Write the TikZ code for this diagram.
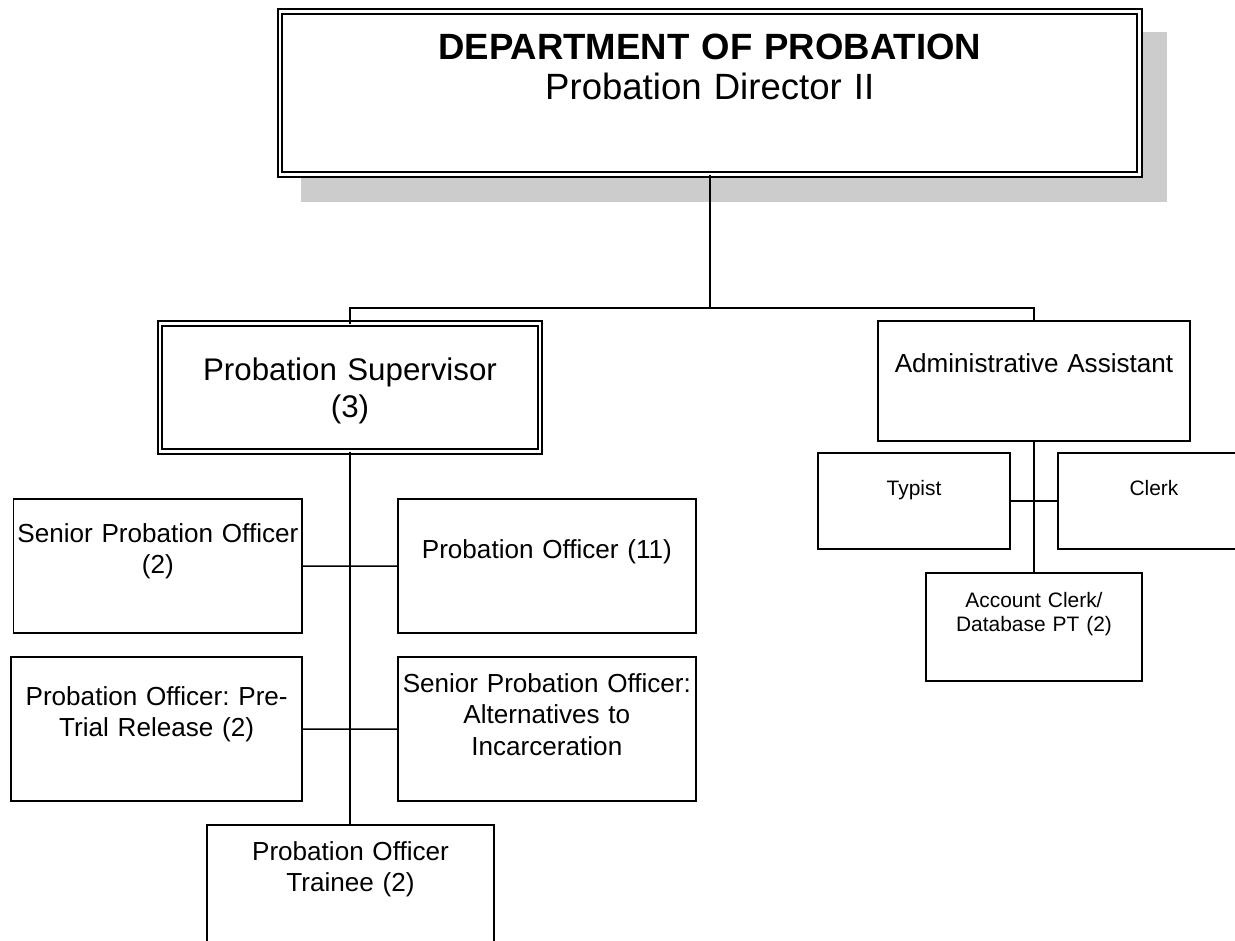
\documentclass[tikz,border=0pt]{standalone}
\usepackage{fontspec}
\setmainfont{Liberation Sans}
\usetikzlibrary{backgrounds}
\frenchspacing
\newcommand{\bigsize}{\fontsize{20.8pt}{22.7pt}\selectfont}
\newcommand{\supsize}{\fontsize{17.8pt}{21.5pt}\selectfont}
\newcommand{\midsize}{\fontsize{14.85pt}{18.1pt}\selectfont}
\newcommand{\smallsize}{\fontsize{11.9pt}{14.2pt}\selectfont}

\begin{document}
\begin{tikzpicture}[x=0.2mm, y=-0.2mm]
	\tikzstyle {post} = [shape=rectangle, draw=black, line width=0.36mm, fill=white, inner sep=0pt, outer sep=0pt, align=center, anchor=north west, font=\midsize]
	\tikzstyle {chief} = [post, double, double distance=0.55mm, line width=0.4mm]
	\tikzstyle {link} = [line width=0.32mm]

	\useasboundingbox (0,0) rectangle (1235,941);
	\clip (0,0) rectangle (1235,941);

	% director with its shadow
	\node[chief, font=\bigsize, text width=171.9mm, text height=9.7mm, text depth=22.9mm] (director) at (280,11.5) {\textbf{DEPARTMENT OF PROBATION}\\Probation Director II};
	\begin{scope}[on background layer]
		\fill[gray!40] ([xshift=4.2mm, yshift=-5.5mm]director.south west) rectangle ([xshift=5.5mm, yshift=-4.1mm]director.north east);
	\end{scope}

	% supervisor and assistant
	\node[chief, font=\supsize, text width=76mm, text height=11.26mm, text depth=14.3mm] (supervisor) at (160,323.7) {Probation Supervisor\\(3)};
	\node[post, text width=62.4mm, text height=10.4mm, text depth=13.6mm] (admin) at (878,321) {Administrative Assistant};

	% officers
	\node[post, text width=57.76mm, text height=8.54mm, text depth=18.2mm] (senior) at (13.5,499.3) {Senior Probation Officer\\(2)};
	\node[post, text width=59.54mm, text height=11.74mm, text depth=15mm] (officer) at (398,499.3) {Probation Officer (11)};
	\node[post, text width=58.26mm, text height=9.54mm, text depth=19.2mm] (pretrial) at (11,657.3) {Probation Officer: Pre-\\Trial Release (2)};
	\node[post, text width=59.54mm, text height=6.94mm, text depth=21.8mm] (alternatives) at (398,657.3) {Senior Probation Officer:\\Alternatives to\\Incarceration};
	\node[post, text width=57.4mm, text height=7mm, text depth=20mm] (trainee) at (207,825) {Probation Officer\\Trainee (2)};

	% clerical staff
	\node[post, font=\smallsize, text width=38.4mm, text height=8.4mm, text depth=10.8mm] (typist) at (818,453) {Typist};
	\node[post, font=\smallsize, text width=38.4mm, text height=8.4mm, text depth=10.8mm] (clerk) at (1058,453) {Clerk};
	\node[post, font=\smallsize, text width=43.2mm, text height=6.8mm, text depth=14.8mm] (account) at (926,573) {Account Clerk/\\Database PT (2)};

	% lines
	\draw[link] (director.south) -- ++(0,133.5) coordinate (fork);
	\draw[link] (fork) -| (supervisor.north);
	\draw[link] (fork) -| (admin.north);
	\draw[link] (supervisor.south) -- (supervisor.south |- trainee.north);
	\draw[link] (senior.east) -- (officer.west);
	\draw[link] (pretrial.east) -- (alternatives.west);
	\draw[link] (admin.south) -- (account.north);
	\draw[link] (typist.east) -- (clerk.west);
\end{tikzpicture}
\end{document}
